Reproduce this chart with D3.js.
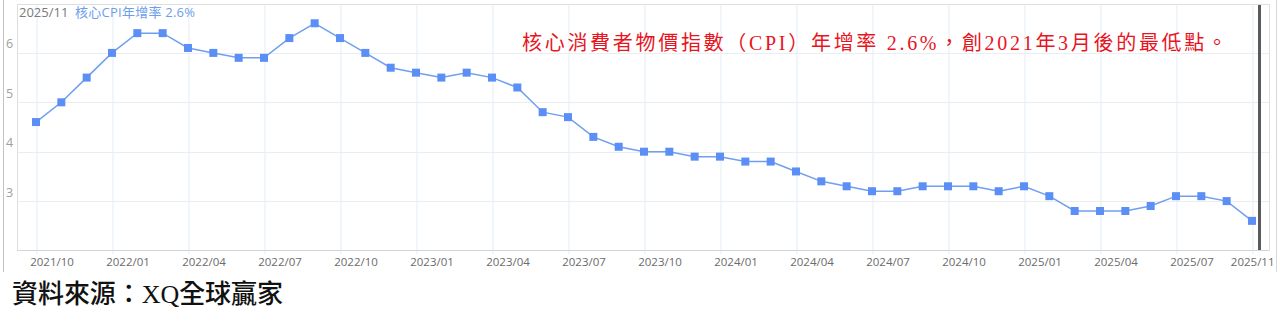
<!DOCTYPE html>
<html>
<head>
<meta charset="utf-8">
<script src="https://cdn.jsdelivr.net/npm/d3@7"></script>
<style>
  body { margin: 0; background: #fff; }
  svg { display: block; }
</style>
</head>
<body>
<script>
// chart data

let categories = [
  "2021/10", "2021/11", "2021/12",
  "2022/01", "2022/02", "2022/03", "2022/04", "2022/05", "2022/06",
  "2022/07", "2022/08", "2022/09", "2022/10", "2022/11", "2022/12",
  "2023/01", "2023/02", "2023/03", "2023/04", "2023/05", "2023/06",
  "2023/07", "2023/08", "2023/09", "2023/10", "2023/11", "2023/12",
  "2024/01", "2024/02", "2024/03", "2024/04", "2024/05", "2024/06",
  "2024/07", "2024/08", "2024/09", "2024/10", "2024/11", "2024/12",
  "2025/01", "2025/02", "2025/03", "2025/04", "2025/05", "2025/06",
  "2025/07", "2025/08", "2025/09", "2025/11"
];

let coreCpi = [
  4.6, 5.0, 5.5,
  6.0, 6.4, 6.4, 6.1, 6.0, 5.9, 5.9, 6.3, 6.6, 6.3, 6.0, 5.7,
  5.6, 5.5, 5.6, 5.5, 5.3, 4.8, 4.7, 4.3, 4.1, 4.0, 4.0, 3.9,
  3.9, 3.8, 3.8, 3.6, 3.4, 3.3, 3.2, 3.2, 3.3, 3.3, 3.3, 3.2,
  3.3, 3.1, 2.8, 2.8, 2.8, 2.9, 3.1, 3.1, 3.0, 2.6
];

let xTickLabels = [
  "2021/10", "2022/01", "2022/04", "2022/07", "2022/10", "2023/01",
  "2023/04", "2023/07", "2023/10", "2024/01", "2024/04", "2024/07",
  "2024/10", "2025/01", "2025/04", "2025/07", "2025/11"
];

let yTicks = [3, 4, 5, 6];

let headerDate = "2025/11";
let headerSeries = "核心CPI年增率 2.6%";
let noteText = "核心消費者物價指數（CPI）年增率 2.6%，創2021年3月後的最低點。";
let sourceText = "資料來源：XQ全球贏家";

// layout

let width = 1280, height = 321;
let plot = { left: 17, top: 4, right: 1269, bottom: 250 };
let sansFont = "'Open Sans', 'Noto Sans CJK TC', sans-serif";
let cjkFont = "'Liberation Serif', 'Noto Sans CJK TC', serif";

let svg = d3.select("body").append("svg")
  .attr("width", width)
  .attr("height", height);

let x = d3.scalePoint().domain(categories).range([36, 1252]);
let y = d3.scaleLinear().domain([2, 7]).range([250.5, 3.5]);

// outer frame lines
svg.append("line")
  .attr("x1", 3.5).attr("x2", 3.5).attr("y1", 0).attr("y2", 272)
  .attr("stroke", "#c4c4c4").attr("stroke-width", 1);
svg.append("line")
  .attr("x1", 1276.5).attr("x2", 1276.5).attr("y1", 0).attr("y2", 272)
  .attr("stroke", "#d8d8d8").attr("stroke-width", 1);

// horizontal grid
svg.append("g")
  .selectAll("line")
  .data(yTicks)
  .enter()
  .append("line")
  .attr("x1", plot.left).attr("x2", plot.right)
  .attr("y1", d => Math.round(y(d)) + 0.5)
  .attr("y2", d => Math.round(y(d)) + 0.5)
  .attr("stroke", "#e9eef3");

// vertical grid + ticks, drawn through a bottom axis
let xAxis = d3.axisBottom(x)
  .tickValues(xTickLabels)
  .tickSize(plot.bottom - plot.top + 4)
  .tickPadding(6);

let gx = svg.append("g")
  .attr("transform", `translate(0.5,${plot.top})`)
  .call(xAxis);
gx.select(".domain").remove();
gx.selectAll(".tick line").attr("stroke", "#e4edf6");
gx.selectAll(".tick text")
  .attr("fill", "#6b6b6b")
  .attr("font-family", sansFont)
  .attr("font-size", "11.5px")
  .attr("dy", "0.5em")
  .attr("text-anchor", "middle")
  .attr("x", function () {
    // labels sit a bit right of the tick, but stay inside the frame
    let w = this.getComputedTextLength();
    let tx = +d3.select(this.parentNode).attr("transform").match(/translate\(([-\d.]+)/)[1];
    return Math.min(15, 1274 - w / 2 - tx);
  });

// plot frame
svg.append("rect")
  .attr("x", plot.left + 0.5).attr("y", plot.top + 0.5)
  .attr("width", plot.right - plot.left)
  .attr("height", plot.bottom - plot.top)
  .attr("fill", "none")
  .attr("stroke", "#dedede");

svg.append("line")
  .attr("x1", plot.left).attr("x2", plot.right)
  .attr("y1", plot.bottom + 0.5).attr("y2", plot.bottom + 0.5)
  .attr("stroke", "#cfd6dd");

// y labels
let yAxis = d3.axisLeft(y).tickValues(yTicks).tickFormat(d3.format("d")).tickSize(0).tickPadding(0);
let gy = svg.append("g")
  .attr("transform", "translate(6,0)")
  .call(yAxis);
gy.select(".domain").remove();
gy.selectAll(".tick text")
  .attr("text-anchor", "start")
  .attr("x", 0)
  .attr("dy", "-0.4em")
  .attr("fill", "#a0a0a0")
  .attr("font-family", sansFont)
  .attr("font-size", "12.5px");

// cursor line at latest point
svg.append("line")
  .attr("x1", x(categories[categories.length - 1]) + 7.5)
  .attr("x2", x(categories[categories.length - 1]) + 7.5)
  .attr("y1", plot.top + 1).attr("y2", plot.bottom)
  .attr("stroke", "#5a5a5a").attr("stroke-width", 3);

// series line
let line = d3.line()
  .x((d, i) => x(categories[i]))
  .y(d => y(d));

svg.append("path")
  .datum(coreCpi)
  .attr("d", line)
  .attr("fill", "none")
  .attr("stroke", "#6f9ff0")
  .attr("stroke-width", 1.5);

let ms = 8;
svg.append("g")
  .selectAll("rect")
  .data(coreCpi)
  .enter()
  .append("rect")
  .attr("x", (d, i) => x(categories[i]) - ms / 2)
  .attr("y", d => y(d) - ms / 2)
  .attr("width", ms)
  .attr("height", ms)
  .attr("fill", "#5b8ff5");

// header
svg.append("text")
  .attr("x", 19).attr("y", 17)
  .attr("font-family", sansFont)
  .attr("font-size", "13px")
  .attr("fill", "#7a7a7a")
  .text(headerDate);

svg.append("text")
  .attr("x", 75).attr("y", 17)
  .attr("font-family", sansFont)
  .attr("font-size", "13px")
  .attr("fill", "#6d9eeb")
  .attr("textLength", 120)
  .attr("lengthAdjust", "spacing")
  .text(headerSeries);

// red note
svg.append("text")
  .attr("x", 522).attr("y", 50)
  .attr("font-family", cjkFont)
  .attr("font-size", "20px")
  .attr("fill", "#e8141e")
  .attr("textLength", 705)
  .attr("lengthAdjust", "spacing")
  .text(noteText);

// source
svg.append("text")
  .attr("x", 12).attr("y", 303)
  .attr("font-family", cjkFont)
  .attr("font-size", "26px")
  .attr("font-weight", 500)
  .attr("fill", "#111")
  .attr("textLength", 271)
  .attr("lengthAdjust", "spacing")
  .text(sourceText);
</script>
</body>
</html>
